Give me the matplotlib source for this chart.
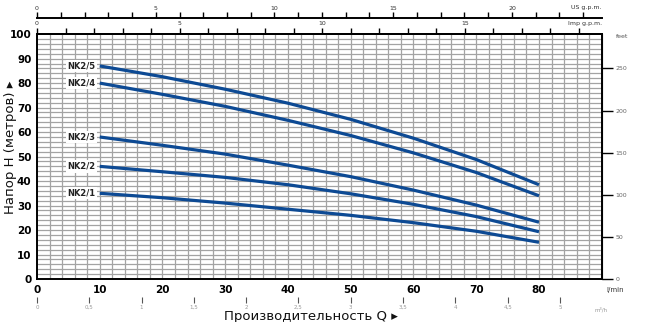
import matplotlib
matplotlib.use("Agg")
import matplotlib.pyplot as plt

# flow in l/min, head in metres
flow = [10, 20, 30, 40, 50, 60, 70, 80]
nk2_5 = [87, 82.6, 77.5, 71.8, 65.2, 57.5, 48.8, 38.5]
nk2_4 = [80, 75.4, 70.5, 64.8, 58.6, 51.5, 43.5, 34]
nk2_3 = [58, 54.6, 51, 46.5, 41.8, 36.3, 30.2, 23.2]
nk2_2 = [46, 43.8, 41.5, 38.5, 34.8, 30.5, 25.5, 19.3]
nk2_1 = [35, 33.2, 31, 28.5, 26, 23, 19.5, 15]
curves = [("NK2/5", nk2_5), ("NK2/4", nk2_4), ("NK2/3", nk2_3),
          ("NK2/2", nk2_2), ("NK2/1", nk2_1)]

x_ticks = [0, 10, 20, 30, 40, 50, 60, 70, 80]
y_ticks = [0, 10, 20, 30, 40, 50, 60, 70, 80, 90, 100]
us_ticks = [0, 5, 10, 15, 20]
imp_ticks = [0, 5, 10, 15]
m3h_ticks = [0, 0.5, 1, 1.5, 2, 2.5, 3, 3.5, 4, 4.5, 5]
m3h_labels = ["0", "0,5", "1", "1,5", "2", "2,5", "3", "3,5", "4", "4,5", "5"]
feet_ticks = [0, 50, 100, 150, 200, 250]

LINE = "#0d4a94"
GRID = "#a3a3a3"
FT_PER_M = 2.907  # as drawn on the original chart
NARROW = ["Liberation Sans Narrow", "DejaVu Sans"]

fig = plt.figure(figsize=(6.47, 3.22), dpi=100)
ax = fig.add_axes([0.0572, 0.1335, 0.8728, 0.7605])
ax.set_xlim(0, 90)
ax.set_ylim(0, 100)

# grid every 2 units
for gx in range(2, 90, 2):
    ax.axvline(gx, color=GRID, lw=0.9, zorder=1)
for gy in range(2, 100, 2):
    ax.axhline(gy, color=GRID, lw=0.9, zorder=1)

for name, vals in curves:
    ax.plot(flow, vals, color=LINE, lw=2.3, zorder=3, solid_capstyle="butt")
    ax.text(9.3, vals[0], name, ha="right", va="center", fontsize=6,
            fontweight="bold", color="#222222", family=NARROW,
            bbox=dict(facecolor="white", edgecolor="none", pad=1.2), zorder=4)

for s in ax.spines.values():
    s.set_linewidth(1.4)

ax.set_xticks(x_ticks)
ax.set_yticks(y_ticks)
ax.tick_params(axis="both", length=0, labelsize=7.5, pad=4)
for lab in ax.get_xticklabels() + ax.get_yticklabels():
    lab.set_family(NARROW)
    lab.set_fontweight("bold")

ax.text(93.5, -3.2, "l/min", fontsize=5, ha="right", va="top", color="#333333")

# Imp g.p.m. on top spine
imp = ax.secondary_xaxis("top", functions=(lambda q: q / 4.546, lambda g: g * 4.546))
imp.set_xticks(range(0, 20))
imp.set_xticklabels([str(t) if t in imp_ticks else "" for t in range(0, 20)])
imp.tick_params(direction="out", length=4, width=1, labelsize=4.5, pad=1.5,
                labelcolor="#333333")
imp.spines["top"].set_linewidth(1.4)
ax.text(90, 103.2, "Imp g.p.m.", fontsize=4.5, ha="right", va="bottom", color="#333333")

# US g.p.m. line above
us = ax.secondary_xaxis(1.065, functions=(lambda q: q / 3.785, lambda g: g * 3.785))
us.set_xticks(range(0, 24))
us.set_xticklabels([str(t) if t in us_ticks else "" for t in range(0, 24)])
us.tick_params(direction="out", length=4, width=1, labelsize=4.5, pad=1.5,
               labelcolor="#333333")
us.spines["top"].set_linewidth(1.4)
ax.text(90, 110, "US g.p.m.", fontsize=4.5, ha="right", va="bottom", color="#333333")

# m3/h ticks below
m3 = ax.secondary_xaxis(-0.075, functions=(lambda q: q * 0.06, lambda h: h / 0.06))
m3.set_xticks(m3h_ticks)
m3.set_xticklabels(m3h_labels)
m3.spines["bottom"].set_visible(False)
m3.tick_params(direction="out", length=4, width=0.8, color="#555555",
               labelsize=4, labelcolor="#999999", pad=1.5)
ax.text(91, -11.5, "m³/h", fontsize=4, ha="right", va="top", color="#999999")

# feet on the right
ft = ax.secondary_yaxis("right", functions=(lambda m: m * FT_PER_M, lambda f: f / FT_PER_M))
ft.set_yticks(feet_ticks)
ft.tick_params(direction="out", length=8, width=1, labelsize=4.5,
               labelcolor="#666666", pad=2)
ax.text(92.3, 99, "feet", fontsize=4.5, ha="left", va="center", color="#555555")

fig.text(0.48, 0.018, "Производительность Q ▸", ha="center", va="center",
         fontsize=9.5, color="#111111")
fig.text(0.016, 0.543, "Напор H (метров) ▸", ha="center", va="center",
         rotation=90, fontsize=9.5, color="#111111")

fig.savefig("out.png", dpi=100, facecolor="white")
